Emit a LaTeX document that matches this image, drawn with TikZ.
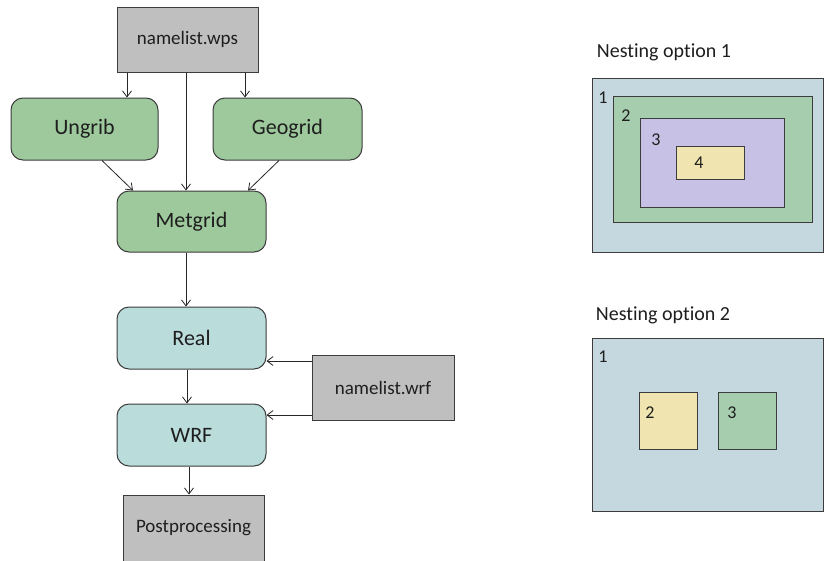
\documentclass[tikz,border=0pt]{standalone}
\usepackage{fontspec}
\setmainfont{Carlito}[Ligatures=CommonOff]
\usetikzlibrary{arrows.meta,calc}
\definecolor{gfill}{RGB}{191,191,191}
\definecolor{greenn}{RGB}{157,201,156}
\definecolor{tealn}{RGB}{186,220,219}
\definecolor{nblue}{RGB}{197,216,223}
\definecolor{ngreen}{RGB}{166,205,174}
\definecolor{nlav}{RGB}{200,193,230}
\definecolor{nyel}{RGB}{240,228,176}
\definecolor{edge}{RGB}{60,60,60}
\definecolor{txt}{RGB}{30,30,30}
\tikzset{
  box/.style={draw=edge, line width=1pt, inner sep=0pt, text=txt},
  filebox/.style={box, fill=gfill, font=\fontsize{19}{21}\selectfont},
  procg/.style={box, fill=greenn, rounded corners=12pt, font=\fontsize{22}{24}\selectfont},
  proct/.style={box, fill=tealn, rounded corners=12pt, font=\fontsize{22}{24}\selectfont},
  arr/.style={draw=black!85, line width=0.8pt, -{Straight Barb[length=6pt,width=9pt]}},
  nest/.style={draw=edge, line width=1pt},
  numlab/.style={font=\fontsize{18}{20}\selectfont, text=txt, inner sep=0pt},
  title/.style={font=\fontsize{20}{22}\selectfont, text=txt, inner sep=0pt}
}
\begin{document}
\begin{tikzpicture}[x=1pt,y=-1pt]
\useasboundingbox (0,0) rectangle (824,560);
% workflow nodes
\node[filebox, minimum width=141pt, minimum height=65pt] (wps) at (187.5,39.5) {namelist.wps};
\node[procg, minimum width=147pt, minimum height=62pt] (ungrib) at (84.5,129) {Ungrib};
\node[procg, minimum width=149pt, minimum height=62pt] (geogrid) at (287.5,129) {Geogrid};
\node[procg, minimum width=149pt, minimum height=61pt] (metgrid) at (191.5,221.5) {Metgrid};
\node[proct, minimum width=149pt, minimum height=62pt] (real) at (191.5,338) {Real};
\node[proct, minimum width=149pt, minimum height=62pt] (wrf) at (191.5,435) {WRF};
\node[filebox, minimum width=141pt, minimum height=72pt, text depth=10pt] (post) at (193.5,531) {Postprocessing};
\node[filebox, minimum width=142pt, minimum height=65pt] (nwrf) at (383,387.5) {namelist.wrf};
% connectors
\draw[arr] ([xshift=-60.5pt]wps.south) -- ([xshift=42.5pt]ungrib.north);
\draw[arr] ([xshift=57.5pt]wps.south) -- ([xshift=-42.5pt]geogrid.north);
\draw[arr] ([xshift=-1.5pt]wps.south) -- ([xshift=-5.5pt]metgrid.north);
\draw[arr] ([xshift=17.5pt]ungrib.south) -- ([xshift=-58.5pt]metgrid.north);
\draw[arr] ([xshift=-8.5pt]geogrid.south) -- ([xshift=56.5pt]metgrid.north);
\draw[arr] ([xshift=-5.5pt]metgrid.south) -- ([xshift=-5.5pt]real.north);
\draw[arr] ([xshift=-4.5pt]real.south) -- ([xshift=-4.5pt]wrf.north);
\draw[arr] ([xshift=-2.5pt]wrf.south) -- ([xshift=-4.5pt]post.north);
\coordinate (r1) at ([yshift=26.5pt]nwrf.west);
\coordinate (r2) at ([yshift=-27.5pt]nwrf.west);
\draw[arr] (r1) -- (r1 -| real.east);
\draw[arr] (r2) -- (r2 -| wrf.east);
% nesting option 1
\node[title] (t1) at (664,52) {Nesting option 1};
\draw[nest, fill=nblue] (592,78) rectangle (823,252);
\draw[nest, fill=ngreen] (613,96) rectangle (812,222);
\draw[nest, fill=nlav] (640,118) rectangle (784,207);
\draw[nest, fill=nyel] (676,146) rectangle (744,179);
\node[numlab] (a1) at (603,98) {1};
\node[numlab] (a2) at (626,116) {2};
\node[numlab] (a3) at (656,140) {3};
\node[numlab] (a4) at (699,163) {4};
% nesting option 2
\node[title] (t2) at (663,315) {Nesting option 2};
\draw[nest, fill=nblue] (592,338) rectangle (823,511);
\draw[nest, fill=nyel] (639,392) rectangle (697,449);
\draw[nest, fill=ngreen] (718,392) rectangle (776,449);
\node[numlab] (b1) at (603,357) {1};
\node[numlab] (b2) at (650,413) {2};
\node[numlab] (b3) at (732,413) {3};
\end{tikzpicture}
\end{document}
